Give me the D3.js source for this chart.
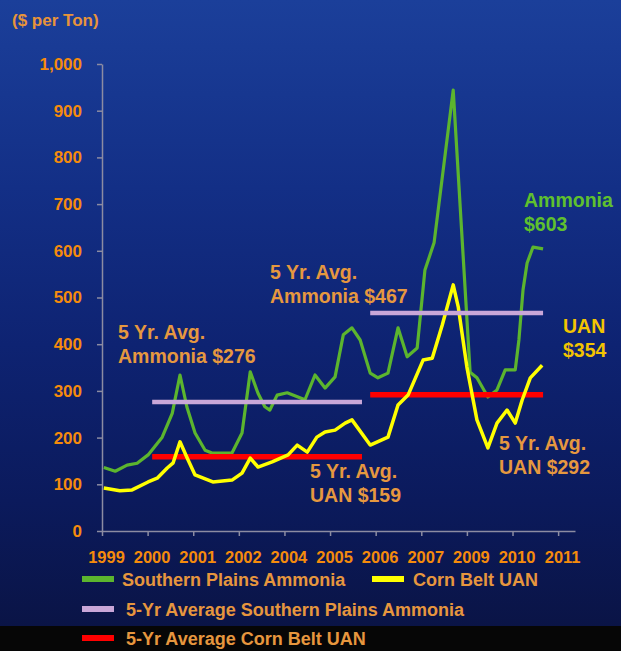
<!DOCTYPE html>
<html>
<head>
<meta charset="utf-8">
<script src="https://cdn.jsdelivr.net/npm/d3@7"></script>
<style>
  html, body { margin: 0; padding: 0; background: #060606; }
  svg { display: block; }
  text { font-family: "Liberation Sans", Arial, sans-serif; font-weight: bold; }
</style>
</head>
<body>
<svg id="chart" width="621" height="651"></svg>
<script>
// ---- data ----
const yearLabels = ["1999","2000","2001","2002","2004","2005","2006","2007","2009","2010","2011"];
const yTicks = [0,100,200,300,400,500,600,700,800,900,1000];

// x positions are in category-tick units (0 = 1999 tick, 10 = 2011 tick)
const ammoniaT = [0.04,0.29,0.55,0.77,1.01,1.32,1.54,1.71,1.86,2.04,2.26,2.41,2.85,3.07,3.25,3.42,3.57,3.68,3.84,4.06,4.45,4.67,4.89,5.11,5.29,5.48,5.66,5.88,6.05,6.27,6.49,6.69,6.91,7.08,7.28,7.70,8.07,8.22,8.46,8.66,8.84,9.06,9.14,9.23,9.32,9.45,9.67];
const ammoniaV = [136,128,141,145,163,201,252,334,266,210,173,167,167,210,341,295,266,259,291,296,281,334,306,330,420,435,409,338,328,338,435,373,392,559,617,944,340,328,287,302,345,345,409,516,574,608,604];

const uanT = [0.04,0.39,0.66,1.01,1.21,1.43,1.56,1.71,1.86,2.04,2.43,2.85,3.07,3.25,3.42,3.73,4.08,4.28,4.50,4.71,4.89,5.11,5.33,5.48,5.88,6.27,6.49,6.71,7.04,7.24,7.46,7.70,7.81,8.00,8.22,8.46,8.66,8.88,9.06,9.21,9.39,9.65];
const uanV = [92,86,88,105,113,135,146,191,158,120,105,109,124,156,137,148,163,184,169,201,212,216,231,238,184,201,270,291,366,370,441,527,480,351,238,178,231,259,231,280,328,355];

const avgStart = [1.10, 5.88];
const avgEnd   = [5.70, 9.67];
const ammoniaAvg = [276, 467];
const uanAvg = [159, 292];

const legendItems = ["Southern Plains Ammonia","Corn Belt UAN","5-Yr Average Southern Plains Ammonia","5-Yr Average Corn Belt UAN"];

// ---- layout ----
const W = 621, H = 651;
const svg = d3.select("#chart");
const defs = svg.append("defs");
const grad = defs.append("linearGradient").attr("id","bg").attr("x1",0).attr("y1",0).attr("x2",0).attr("y2",1);
[[0,"#1b3f9a"],[0.3,"#132f86"],[0.55,"#0e2372"],[0.8,"#0b1a5c"],[1,"#0a1446"]].forEach(([o,c]) =>
  grad.append("stop").attr("offset",o).attr("stop-color",c));
svg.append("rect").attr("x",0).attr("y",0).attr("width",W).attr("height",626).attr("fill","url(#bg)");
svg.append("rect").attr("x",0).attr("y",626).attr("width",W).attr("height",H-626).attr("fill","#060606");

const x = d3.scaleLinear().domain([0, 10.37]).range([102, 575]);
const y = d3.scaleLinear().domain([0, 1000]).range([531, 64]);

const axisColor = "#8c8ca2";
const tickColor = "#f58b0c";

// y axis
const gy = svg.append("g").attr("transform", `translate(${x(0)},0)`)
  .call(d3.axisLeft(y).tickValues(yTicks).tickFormat(d3.format(",")).tickSize(5).tickSizeOuter(0));
gy.select(".domain").attr("stroke", axisColor).attr("stroke-width", 1.5);
gy.selectAll(".tick line").attr("stroke", axisColor).attr("stroke-width", 1.5);
gy.selectAll(".tick text").attr("fill", tickColor).attr("font-size", 17).attr("x", -20)
  .attr("font-family", '"Liberation Sans", Arial, sans-serif').attr("font-weight","bold");

// x axis
const gx = svg.append("g").attr("transform", `translate(0,${y(0)})`)
  .call(d3.axisBottom(x).tickValues(d3.range(yearLabels.length)).tickFormat(i => yearLabels[i]).tickSize(5).tickSizeOuter(0));
gx.select(".domain").attr("stroke", axisColor).attr("stroke-width", 1.5);
gx.selectAll(".tick line").attr("stroke", axisColor).attr("stroke-width", 1.5);
gx.selectAll(".tick text").attr("fill", tickColor).attr("font-size", 16.5).attr("dx", 4).attr("y", 20)
  .attr("font-family", '"Liberation Sans", Arial, sans-serif').attr("font-weight","bold");

svg.append("text").attr("x", 12).attr("y", 26).attr("fill", "#e8943a").attr("font-size", 17).text("($ per Ton)");

// series
const ammonia = ammoniaT.map((t,i) => ({t, v: ammoniaV[i]}));
const uan = uanT.map((t,i) => ({t, v: uanV[i]}));
const line = d3.line().x(d => x(d.t)).y(d => y(d.v));

const green = "#5cb52e", yellow = "#ffff00", lilac = "#c9a7d8", red = "#ff0000";

svg.append("path").datum(ammonia).attr("d", line).attr("fill","none").attr("stroke", green)
  .attr("stroke-width", 3.2).attr("stroke-linejoin","round");

svg.selectAll(".uanavg").data(uanAvg).join("line").attr("class","uanavg")
  .attr("x1",(d,i)=>x(avgStart[i])).attr("x2",(d,i)=>x(avgEnd[i]))
  .attr("y1",d=>y(d)).attr("y2",d=>y(d)).attr("stroke", red).attr("stroke-width", 5.5);

svg.append("path").datum(uan).attr("d", line).attr("fill","none").attr("stroke", yellow)
  .attr("stroke-width", 3.5).attr("stroke-linejoin","round");

svg.selectAll(".amavg").data(ammoniaAvg).join("line").attr("class","amavg")
  .attr("x1",(d,i)=>x(avgStart[i])).attr("x2",(d,i)=>x(avgEnd[i]))
  .attr("y1",d=>y(d)).attr("y2",d=>y(d)).attr("stroke", lilac).attr("stroke-width", 4.5);

// annotations
const annColor = "#e6983f";
const notes = [
  {x:118, y:339, lines:["5 Yr. Avg.", "Ammonia $" + ammoniaAvg[0]], c: annColor},
  {x:270, y:279, lines:["5 Yr. Avg.", "Ammonia $" + ammoniaAvg[1]], c: annColor},
  {x:310, y:478, lines:["5 Yr. Avg.", "UAN $" + uanAvg[0]], c: annColor},
  {x:499, y:450, lines:["5 Yr. Avg.", "UAN $" + uanAvg[1]], c: annColor},
  {x:524, y:207, lines:["Ammonia", "$603"], c: "#5fc02e"},
  {x:563, y:333, lines:["UAN", "$354"], c: "#f3c400"}
];
notes.forEach(n => {
  const t = svg.append("text").attr("x", n.x).attr("y", n.y).attr("fill", n.c).attr("font-size", 19.5);
  n.lines.forEach((l,i) => t.append("tspan").attr("x", n.x).attr("dy", i ? 23.5 : 0).text(l));
});

// legend
const legColors = [green, yellow, lilac, red];
const legPos = [[82,579,122],[372,579,413],[82,609,126],[82,638,126]];
legendItems.forEach((name,i) => {
  const [sx, sy, tx] = legPos[i];
  svg.append("line").attr("x1", sx).attr("x2", sx+32).attr("y1", sy).attr("y2", sy)
    .attr("stroke", legColors[i]).attr("stroke-width", 6);
  svg.append("text").attr("x", tx).attr("y", sy+6.5).attr("fill", "#e6963e").attr("font-size", 18).text(name);
});
</script>
</body>
</html>
